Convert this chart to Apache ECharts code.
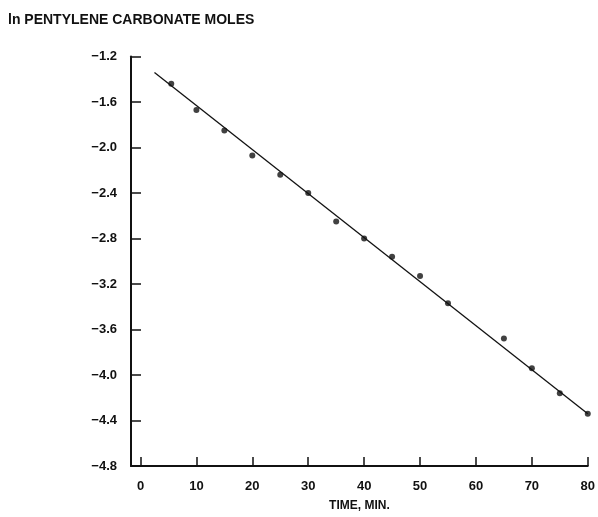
<!DOCTYPE html>
<html>
<head>
<meta charset="utf-8">
<style>
    html, body { margin: 0; padding: 0; background: #fff; }
    #main { width: 598px; height: 517px; }
</style>
<script src="https://cdn.jsdelivr.net/npm/echarts@6/dist/echarts.min.js"></script>
</head>
<body>
<div id="main"></div>
<script>
    // 读图数据
    var timeMin = [5.5, 10, 15, 20, 25, 30, 35, 40, 45, 50, 55, 65, 70, 75, 80];
    var lnMoles = [-1.44, -1.67, -1.85, -2.07, -2.24, -2.40, -2.65, -2.80, -2.96, -3.13, -3.37, -3.68, -3.94, -4.16, -4.34];
    var fitLine = [[2.5, -1.34], [80, -4.34]];
    var xTicks = [0, 10, 20, 30, 40, 50, 60, 70, 80];

    var fontFam = '"Liberation Sans", Arial, sans-serif';

    var pts = timeMin.map(function (t, i) {
        return [t, lnMoles[i]];
    });

    var myChart = echarts.init(document.getElementById('main'));
    myChart.setOption({
        animation: false,
        title: {
            text: 'ln PENTYLENE CARBONATE MOLES',
            left: 3,
            top: 8,
            textStyle: {fontFamily: fontFam, fontSize: 14, fontWeight: 'bold', color: '#111'}
        },
        grid: {left: 131, right: 8, top: 56.5, bottom: 46},
        xAxis: {
            type: 'value',
            min: -1.7,
            max: 80,
            name: 'TIME, MIN.',
            nameLocation: 'middle',
            nameGap: 34,
            nameTextStyle: {fontFamily: fontFam, fontSize: 12, fontWeight: 'bold', color: '#111'},
            splitLine: {show: false},
            axisLine: {lineStyle: {color: '#111', width: 2}},
            axisTick: {inside: true, length: 9, customValues: xTicks, lineStyle: {color: '#111', width: 1.5}},
            axisLabel: {customValues: xTicks, margin: 14, fontFamily: fontFam, fontSize: 13, fontWeight: 'bold', color: '#111'}
        },
        yAxis: {
            type: 'value',
            min: -4.8,
            max: -1.2,
            interval: 0.4,
            splitLine: {show: false},
            axisLine: {show: true, onZero: false, lineStyle: {color: '#111', width: 2}},
            axisTick: {show: true, inside: true, length: 10, lineStyle: {color: '#111', width: 1.5}},
            axisLabel: {
                margin: 14,
                fontFamily: fontFam,
                fontSize: 13,
                fontWeight: 'bold',
                color: '#111',
                formatter: function (v) {
                    return v.toFixed(1).replace('-', '\u2212');
                }
            }
        },
        series: [{
            type: 'line',
            data: fitLine,
            symbol: 'none',
            lineStyle: {color: '#111', width: 1.3}
        }, {
            type: 'scatter',
            data: pts,
            symbolSize: 6,
            itemStyle: {color: '#111'}
        }]
    });
</script>
</body>
</html>
